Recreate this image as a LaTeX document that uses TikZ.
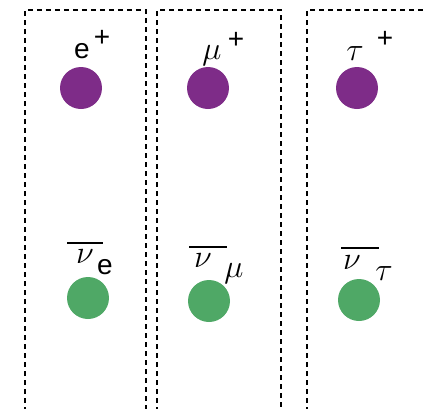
\documentclass[tikz,border=0pt]{standalone}
\usepackage{fontspec}
\setsansfont{Liberation Sans}
\usetikzlibrary{positioning}
\definecolor{Lepton}{HTML}{7E2C88}
\definecolor{Nu}{HTML}{4FA866}
\newcommand{\gsym}[1]{\scalebox{1.3}{$#1$}}
\tikzset{
  frame/.style={dash pattern=on 5pt off 4pt,line width=1.1pt},
  ball/.style={circle,inner sep=0pt,minimum size=42pt},
  txt/.style={inner sep=0pt,font=\fontsize{28}{32}\selectfont\sffamily},
  greek/.style={inner sep=0pt,font=\Huge},
  bar/.style={line width=1.2pt}
}
\begin{document}
\begin{tikzpicture}[x=1pt,y=-1pt]
\useasboundingbox (0,0) rectangle (424,408);
% the three generations
\draw[frame] (25,412) -- (25,10) -- (146,10) -- (146,412);
\draw[frame] (157,412) -- (157,10) -- (281,10) -- (281,412);
\draw[frame] (307,412) -- (307,10) -- (430,10);
% charged leptons
\foreach \n/\x in {e/81,mu/208,tau/357}
  \node[ball,fill=Lepton] (l\n) at (\x,88) {};
% antineutrinos
\foreach \n/\x/\y in {e/88/298,mu/209/301,tau/359/300}
  \node[ball,fill=Nu] (n\n) at (\x,\y) {};
% labels
\node[txt] (le-sym) at (82,51) {e};
\node[txt] (le-sgn) at (102,38) {+};
\node[greek] (lmu-sym) at (212,56) {\gsym{\mu}};
\node[txt] (lmu-sgn) at (236,40) {+};
\node[greek] (ltau-sym) at (355,54) {\gsym{\tau}};
\node[txt] (ltau-sgn) at (385,39) {+};
\node[greek] (ne-sym) at (85,257) {\gsym{\nu}};
\node[txt] (ne-sub) at (105,267) {e};
\draw[bar] (67,243) -- (103,243);
\node[greek] (nmu-sym) at (203,261) {\gsym{\nu}};
\node[greek] (nmu-sub) at (234,274) {\gsym{\mu}};
\draw[bar] (189,247) -- (227,247);
\node[greek] (ntau-sym) at (352,263) {\gsym{\nu}};
\node[greek] (ntau-sub) at (384,274) {\gsym{\tau}};
\draw[bar] (341,248) -- (379,248);
\end{tikzpicture}
\end{document}
